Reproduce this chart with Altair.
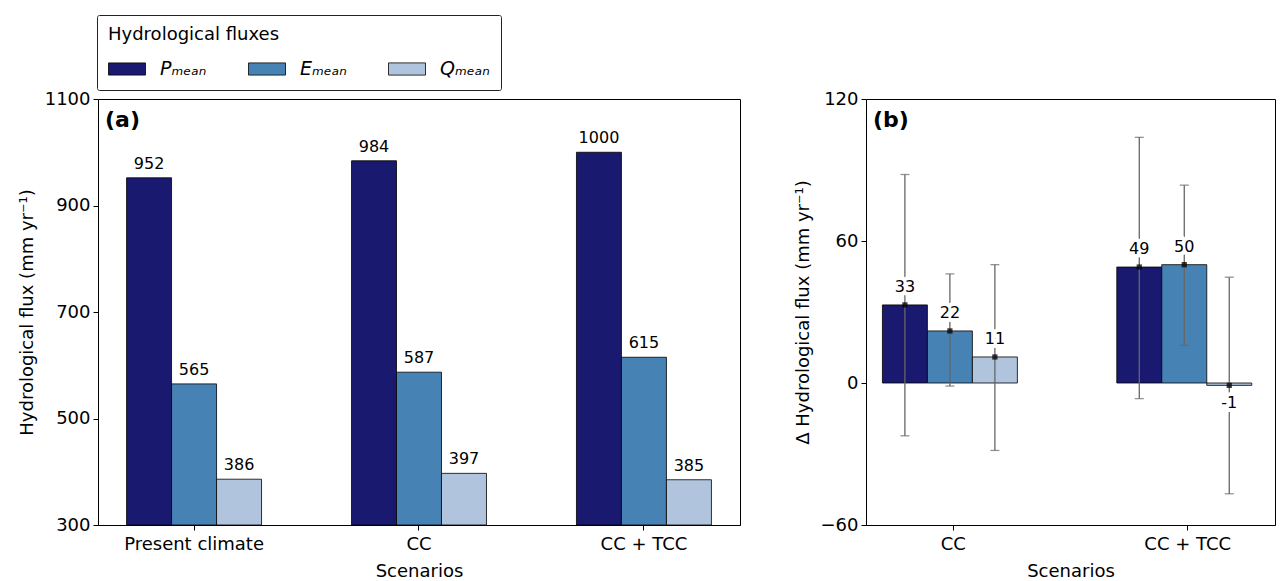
import altair as alt
import pandas as pd

# ---------------- data ----------------
scenarios_a = ["Present climate", "CC", "CC + TCC"]
p_mean = [952, 984, 1000]
e_mean = [565, 587, 615]
q_mean = [386, 397, 385]

scenarios_b = ["CC", "CC + TCC"]
dp_mean = [33, 49]
de_mean = [22, 50]
dq_mean = [11, -1]
dp_low = [-22.3, -6.6]
dp_high = [88.1, 103.8]
de_low = [-1.3, 15.9]
de_high = [46.1, 83.6]
dq_low = [-28.5, -46.8]
dq_high = [50.0, 44.7]

flux_labels = ["P\u2098\u2091\u2090\u2099", "E\u2098\u2091\u2090\u2099", "Q\u2098\u2091\u2090\u2099"]
flux_colors = ["#191970", "#4682b4", "#b0c4de"]

ticks_a = [300, 500, 700, 900, 1100]
ticks_b = [-60, 0, 60, 120]

# ---------------- tables ----------------
rows_a = []
for i, s in enumerate(scenarios_a):
    for f, vals in zip(flux_labels, [p_mean, e_mean, q_mean]):
        rows_a.append({"scenario": s, "flux": f, "value": vals[i], "label": str(vals[i])})
df_a = pd.DataFrame(rows_a)

rows_b = []
for i, s in enumerate(scenarios_b):
    for f, vals, lo, hi in zip(flux_labels,
                               [dp_mean, de_mean, dq_mean],
                               [dp_low, de_low, dq_low],
                               [dp_high, de_high, dq_high]):
        rows_b.append({"scenario": s, "flux": f, "value": vals[i],
                       "low": lo[i], "high": hi[i], "label": str(vals[i])})
df_b = pd.DataFrame(rows_b)

FONT = "DejaVu Sans"

color_enc = alt.Color(
    "flux:N",
    sort=flux_labels,
    scale=alt.Scale(domain=flux_labels, range=flux_colors),
    legend=alt.Legend(
        title="Hydrological fluxes",
        orient="none",
        legendX=-1,
        legendY=-84,
        direction="horizontal",
        columns=3,
        gridAlign="all",
        symbolType="M-1,-0.33L1,-0.33L1,0.33L-1,0.33Z",
        symbolSize=1369,
        symbolStrokeColor="black",
        symbolStrokeWidth=0.8,
        symbolOpacity=1,
        labelFontSize=19,
        labelFontStyle="italic",
        labelOffset=14,
        columnPadding=36,
        titleFontSize=18,
        titleFontWeight="normal",
        titlePadding=6,
        padding=11,
        strokeColor="#222222",
        fillColor="white",
        cornerRadius=2,
    ),
)

# ---------------- panel (a) ----------------
xa = alt.X("scenario:N", sort=scenarios_a,
           scale=alt.Scale(paddingInner=0.4, paddingOuter=0.127),
           axis=alt.Axis(title="Scenarios", labelAngle=0))
xoa = alt.XOffset("flux:N", sort=flux_labels,
                  scale=alt.Scale(paddingInner=0, paddingOuter=0))
ya = alt.Y("value:Q",
           scale=alt.Scale(domain=[300, 1100], nice=False, zero=False),
           axis=alt.Axis(values=ticks_a, format="d",
                         title="Hydrological flux (mm yr\u207b\u00b9)"))

base_a = alt.Chart(df_a)
bars_a = base_a.mark_bar(stroke="black", strokeWidth=0.8).encode(
    x=xa, xOffset=xoa, y=ya, y2=alt.datum(300), color=color_enc)
text_a = base_a.mark_text(baseline="bottom", dy=-6, fontSize=16, color="black").encode(
    x=xa, xOffset=xoa, y=ya, text="label:N")
tag_a = alt.Chart(pd.DataFrame({"t": ["(a)"]})).mark_text(
    align="left", baseline="middle", fontSize=22, fontWeight="bold", color="black"
).encode(text="t:N", x=alt.value(7), y=alt.value(21))

panel_a = alt.layer(bars_a, text_a, tag_a).properties(width=642, height=426)

# ---------------- panel (b) ----------------
xb = alt.X("scenario:N", sort=scenarios_b,
           scale=alt.Scale(paddingInner=0.395, paddingOuter=0.07),
           axis=alt.Axis(title="Scenarios", labelAngle=0))
xob = alt.XOffset("flux:N", sort=flux_labels,
                  scale=alt.Scale(paddingInner=0, paddingOuter=0))
yscale_b = alt.Scale(domain=[-60, 120], nice=False)
yb = alt.Y("value:Q", scale=yscale_b,
           axis=alt.Axis(values=ticks_b, format="d",
                         title="\u0394 Hydrological flux (mm yr\u207b\u00b9)"))

base_b = alt.Chart(df_b)
bars_b = base_b.mark_bar(stroke="black", strokeWidth=0.8).encode(
    x=xb, xOffset=xob, y=yb, color=color_enc)
err_b = base_b.mark_rule(color="#666666", strokeWidth=1.3).encode(
    x=xb, xOffset=xob, y=alt.Y("low:Q", scale=yscale_b), y2="high:Q")
cap_lo = base_b.mark_tick(color="#666666", size=9, thickness=1.3).encode(
    x=xb, xOffset=xob, y=alt.Y("low:Q", scale=yscale_b))
cap_hi = base_b.mark_tick(color="#666666", size=9, thickness=1.3).encode(
    x=xb, xOffset=xob, y=alt.Y("high:Q", scale=yscale_b))
dot_b = base_b.mark_square(size=28, color="black", opacity=0.75).encode(
    x=xb, xOffset=xob, y=yb)

pos = alt.datum.value >= 0
neg = alt.datum.value < 0
halo_pos = base_b.transform_filter(pos).mark_text(
    baseline="middle", dy=-18, fontSize=16, color="white", stroke="white",
    strokeWidth=8, strokeJoin="round").encode(x=xb, xOffset=xob, y=yb, text="label:N")
halo_neg = base_b.transform_filter(neg).mark_text(
    baseline="middle", dy=18, fontSize=16, color="white", stroke="white",
    strokeWidth=8, strokeJoin="round").encode(x=xb, xOffset=xob, y=yb, text="label:N")
text_pos = base_b.transform_filter(pos).mark_text(
    baseline="middle", dy=-18, fontSize=16, color="black").encode(
    x=xb, xOffset=xob, y=yb, text="label:N")
text_neg = base_b.transform_filter(neg).mark_text(
    baseline="middle", dy=18, fontSize=16, color="black").encode(
    x=xb, xOffset=xob, y=yb, text="label:N")
tag_b = alt.Chart(pd.DataFrame({"t": ["(b)"]})).mark_text(
    align="left", baseline="middle", fontSize=22, fontWeight="bold", color="black"
).encode(text="t:N", x=alt.value(7), y=alt.value(21))

panel_b = alt.layer(bars_b, err_b, cap_lo, cap_hi, dot_b, halo_pos, halo_neg,
                    text_pos, text_neg, tag_b).properties(width=409, height=426)

chart = alt.hconcat(panel_a, panel_b, spacing=52).properties(
    padding={"left": 9, "top": 6, "right": 0, "bottom": 0}
).configure(font=FONT).configure_view(
    stroke="black", strokeWidth=1
).configure_axis(
    grid=False, domainColor="black", tickColor="black", labelColor="black",
    titleColor="black", labelFontSize=18, titleFontSize=18,
    titleFontWeight="normal", tickSize=5, labelPadding=3, titlePadding=8,
    labelFont=FONT, titleFont=FONT,
).configure_axisX(
    labelPadding=5, titlePadding=9,
)

chart.save("out.html", embed_options={"renderer": "svg", "actions": False})
